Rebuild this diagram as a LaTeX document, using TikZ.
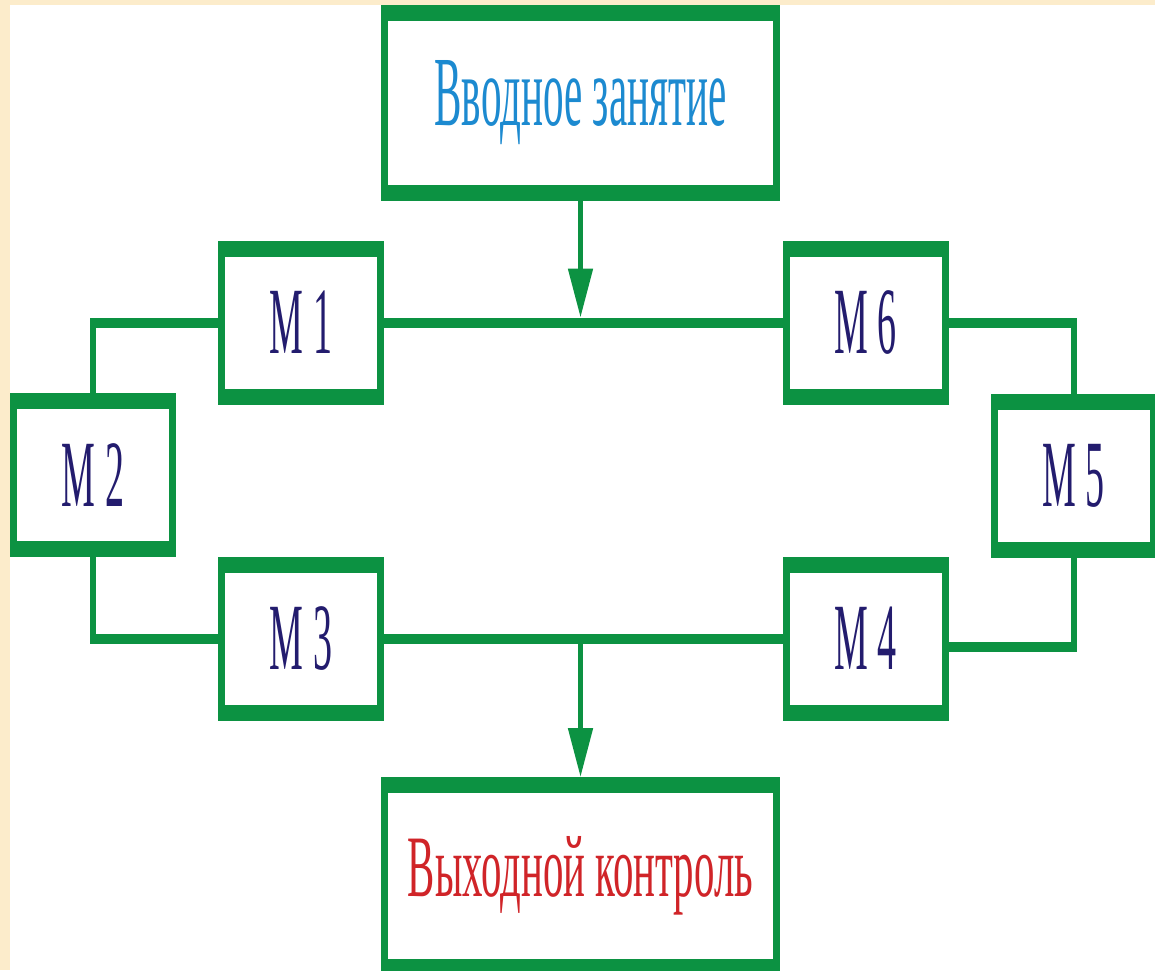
\documentclass[tikz,border=0pt]{standalone}
\usepackage{fontspec}
\setmainfont{Liberation Serif}
\usetikzlibrary{arrows.meta,calc}

\definecolor{framegreen}{RGB}{12,146,66}
\definecolor{modnavy}{RGB}{35,28,110}
\definecolor{introblue}{RGB}{28,138,208}
\definecolor{finalred}{RGB}{208,36,40}
\definecolor{pagecream}{RGB}{252,236,203}

% condensed serif label for the module boxes
\newcommand\modlabel[1]{\scalebox{0.4}[1]{#1}}

\tikzset{
  framebox/.style={rectangle, fill=framegreen, draw=none, inner sep=0pt, outer sep=0pt,
    path picture={\fill[white]
      ([shift={(7pt,-16pt)}]path picture bounding box.north west) rectangle
      ([shift={(-7pt,16pt)}]path picture bounding box.south east);}},
  modbox/.style={framebox, minimum width=166pt, minimum height=164pt,
    text=modnavy, font=\fontsize{95pt}{95pt}\selectfont},
  bigbox/.style={framebox, minimum width=399pt, minimum height=196pt},
  hwire/.style={draw=framegreen, line width=10pt},
  vwire/.style={draw=framegreen, line width=6pt},
  arrowwire/.style={draw=framegreen, line width=5pt,
    -{Triangle[width=24pt,length=49pt]}},
}

\begin{document}
\begin{tikzpicture}[x=1pt,y=-1pt]
  \clip (0,0) rectangle (1155,970);
  % page background with its cream edge
  \fill[pagecream] (0,0) rectangle (1155,970);
  \fill[white] (10,5) rectangle (1155,970);

  % boxes
  \node[bigbox, text=introblue] (intro) at (580.5,102.5)
    {\resizebox{292pt}{65pt}{Вводное занятие}};
  \node[bigbox, text=finalred, minimum height=198pt] (final) at (580.5,876)
    {\resizebox{345pt}{60pt}{Выходной контроль}};

  \node[modbox] (m1) at (301,322.5) {\modlabel{М 1}};
  \node[modbox] (m6) at (865.5,322.5) {\modlabel{М 6}};
  \node[modbox] (m2) at (93,475) {\modlabel{М 2}};
  \node[modbox] (m5) at (1073.5,476) {\modlabel{М 5}};
  \node[modbox] (m3) at (301,638.5) {\modlabel{М 3}};
  \node[modbox] (m4) at (865.5,638.5) {\modlabel{М 4}};

  % junction points of the ring
  \coordinate (lt) at (m1.west -| m2.north);
  \coordinate (lb) at (m3.west -| m2.south);
  \coordinate (rt) at (m6.east -| m5.north);
  \coordinate (m4r) at ([yshift=-8pt]m4.east);
  \coordinate (rb) at (m4r -| m5.south);
  \coordinate (jt) at (intro.south |- m1.east);
  \coordinate (jb) at (final.north |- m3.east);

  % ring of modules
  \draw[hwire] (m1.east) -- (m6.west);
  \draw[hwire] (m3.east) -- (m4.west);
  \draw[hwire] ([xshift=-3pt]lt) -- (m1.west);
  \draw[vwire] (lt) -- (m2.north);
  \draw[vwire] (m2.south) -- (lb);
  \draw[hwire] ([xshift=-3pt]lb) -- (m3.west);
  \draw[hwire] (m6.east) -- ([xshift=3pt]rt);
  \draw[vwire] (rt) -- (m5.north);
  \draw[vwire] (m5.south) -- (rb);
  \draw[hwire] ([xshift=3pt]rb) -- (m4r);

  % entry and exit
  \draw[arrowwire] (intro.south) -- ([yshift=5pt]jt);
  \draw[arrowwire] (jb) -- (final.north);
\end{tikzpicture}
\end{document}
